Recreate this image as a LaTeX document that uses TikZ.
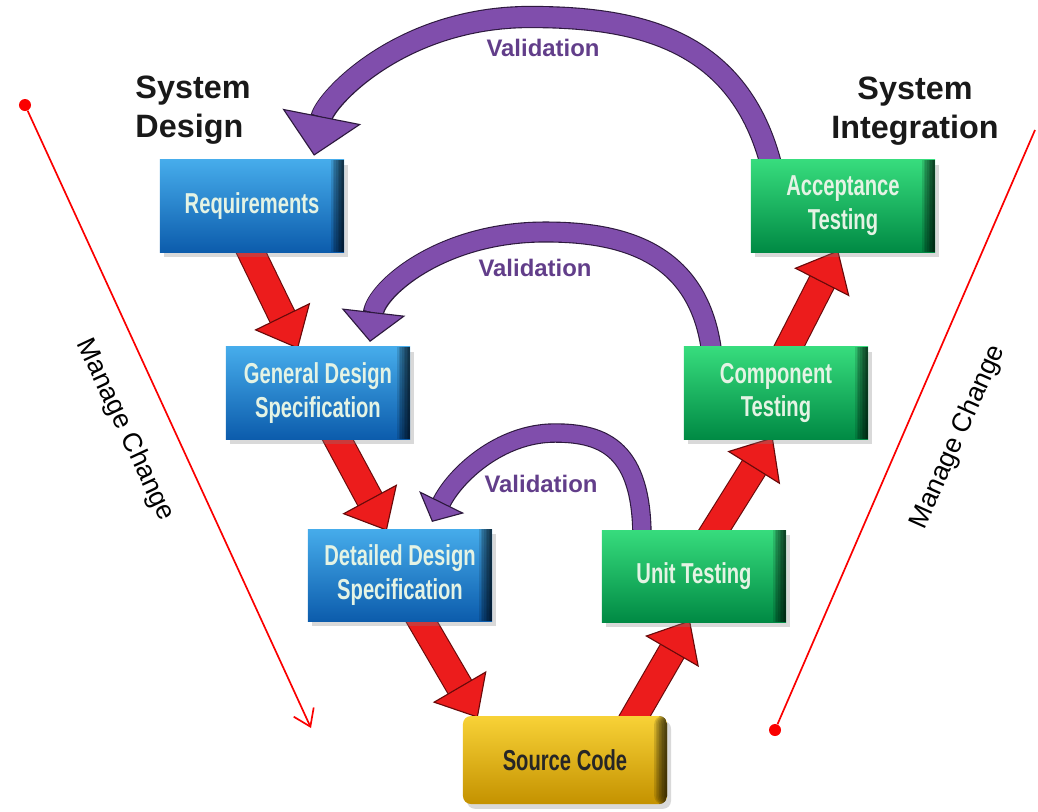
\documentclass[tikz,border=0pt]{standalone}
\usepackage{fontspec}
\setmainfont{Liberation Sans}
\newfontfamily\narrowfont[FakeStretch=0.7]{Liberation Sans}
\usetikzlibrary{arrows.meta,calc,shadows,backgrounds}

\definecolor{blueL}{RGB}{70,172,235}
\definecolor{blueD}{RGB}{12,92,172}
\definecolor{greenL}{RGB}{55,220,125}
\definecolor{greenD}{RGB}{0,138,68}
\definecolor{goldL}{RGB}{248,210,55}
\definecolor{goldD}{RGB}{196,146,0}
\definecolor{arrowred}{RGB}{236,28,28}
\definecolor{arrowedge}{RGB}{105,10,10}
\definecolor{valpurple}{RGB}{128,78,172}
\definecolor{valedge}{RGB}{45,25,62}
\definecolor{valtext}{RGB}{98,62,138}
\definecolor{boxtext}{RGB}{228,243,228}
\definecolor{linered}{RGB}{250,0,0}

\begin{document}
\begin{tikzpicture}[x=0.025cm,y=-0.025cm,
  stage/.style={rectangle, minimum width=4.6cm, minimum height=2.3cm, inner sep=2pt,
    align=center, text=boxtext, font=\narrowfont\bfseries\fontsize{20.5}{24}\selectfont,
    drop shadow={shadow xshift=0.1cm, shadow yshift=-0.12cm, opacity=0.3},
    path picture={\foreach \k in {1,...,8}
      \fill[black, opacity=0.13]
        ($(path picture bounding box.north east)+(-\k*0.04cm,0)$) rectangle (path picture bounding box.south east);}},
  design/.style={stage, top color=blueL, bottom color=blueD},
  testing/.style={stage, top color=greenL, bottom color=greenD},
  code/.style={stage, rounded corners=0.2cm, minimum width=5.1cm, minimum height=2.2cm,
    top color=goldL, bottom color=goldD, text=black!85},
  title/.style={align=left, font=\bfseries\fontsize{23}{28}\selectfont, text=black!90},
  vallabel/.style={font=\bfseries\fontsize{17}{20}\selectfont, text=valtext},
  change/.style={font=\fontsize{19}{22}\selectfont},
  reddot/.style={circle, fill=linered, inner sep=0pt, minimum size=0.3cm},
  redline/.style={draw=linered, line width=1.2pt},
  redarrow/.style={draw=arrowred, line width=0.65cm,
    -{Triangle[length=0.9cm, width=1.55cm, fill=arrowred, color=arrowedge, line width=0.8pt]},
    preaction={draw=arrowedge, line width=0.65cm+1.6pt, arrows=-, shorten >=0.85cm}},
  valarrow/.style n args={3}{draw=valpurple, line width=#1,
    -{Triangle[length=#2, width=#3, fill=valpurple, color=valedge, line width=0.8pt]},
    preaction={draw=valedge, line width=#1+1.6pt, arrows=-, shorten >=#2-1pt}}]
  \useasboundingbox (0,0) rectangle (1038,811);
  % the V stages
  \node[design] (req) at (252,206) {Requirements};
  \node[design] (gds) at (318,393) {General Design\\Specification};
  \node[design] (dds) at (400,575) {Detailed Design\\Specification};
  \node[code] (src) at (565,760) {Source Code};
  \node[testing] (unit) at (694,576) {Unit Testing};
  \node[testing] (comp) at (776,393) {Component\\Testing};
  \node[testing] (acc) at (843,206) {Acceptance\\Testing};
  % headings
  \node[title] (sysdes) at (193,110) {System\\Design};
  \node[title, align=center] (sysint) at (915,111) {System\\Integration};
  % validation labels
  \node[vallabel] (v1) at (543,48) {Validation};
  \node[vallabel] (v2) at (535,268) {Validation};
  \node[vallabel] (v3) at (541,484) {Validation};
  \begin{pgfonlayer}{background}
    % down the left side
    \draw[redarrow] ([xshift=-0.12cm,yshift=0.2cm]req.south) -- ([xshift=-0.5cm,yshift=-0.05cm]gds.north);
    \draw[redarrow] ([xshift=0.38cm,yshift=0.2cm]gds.south) -- ([xshift=-0.33cm,yshift=-0.05cm]dds.north);
    \draw[redarrow] ([xshift=0.42cm,yshift=0.2cm]dds.south) -- ([xshift=-2.18cm,yshift=-0.05cm]src.north);
    % up the right side
    \draw[redarrow] ([xshift=1.63cm,yshift=-0.2cm]src.north) -- ([xshift=-0.1cm,yshift=0.05cm]unit.south);
    \draw[redarrow] ([xshift=0.4cm,yshift=-0.2cm]unit.north) -- ([xshift=-0.08cm,yshift=0.05cm]comp.south);
    \draw[redarrow] ([xshift=0.22cm,yshift=-0.2cm]comp.north) -- ([xshift=-0.12cm,yshift=0.05cm]acc.south);
    % validation loops
    \draw[valarrow={0.5cm}{1cm}{2cm}] ([xshift=-1.78cm,yshift=-0.2cm]acc.north)
      .. controls (740,40) and (640,17) .. (530,17)
      .. controls (400,17) and (325,100) .. ([xshift=1.55cm,yshift=0.1cm]req.north);
    \draw[valarrow={0.47cm}{0.75cm}{1.6cm}] ([xshift=-1.6cm,yshift=-0.2cm]comp.north)
      .. controls (700,250) and (620,232) .. (545,232)
      .. controls (440,232) and (376,290) .. ([xshift=1.3cm,yshift=0.12cm]gds.north);
    \draw[valarrow={0.43cm}{0.55cm}{1.25cm}] ([xshift=-1.3cm,yshift=-0.2cm]unit.north)
      .. controls (642,450) and (605,433) .. (555,433)
      .. controls (500,433) and (455,475) .. ([xshift=0.8cm,yshift=0.17cm]dds.north);
  \end{pgfonlayer}
  % manage change lines
  \node[reddot] (d1) at (25,105) {};
  \coordinate (e1) at (311,728);
  \draw[redline, -{Straight Barb[length=0.4cm, width=0.55cm]}] (d1) -- (e1);
  \node[reddot] (d2) at (775,730) {};
  \coordinate (e2) at (1035,130);
  \draw[redline] (d2) -- (e2);
  \node[change, rotate=-65] (mc1) at (125,430) {Manage Change};
  \node[change, rotate=66] (mc2) at (958,437) {Manage Change};
\end{tikzpicture}
\end{document}
